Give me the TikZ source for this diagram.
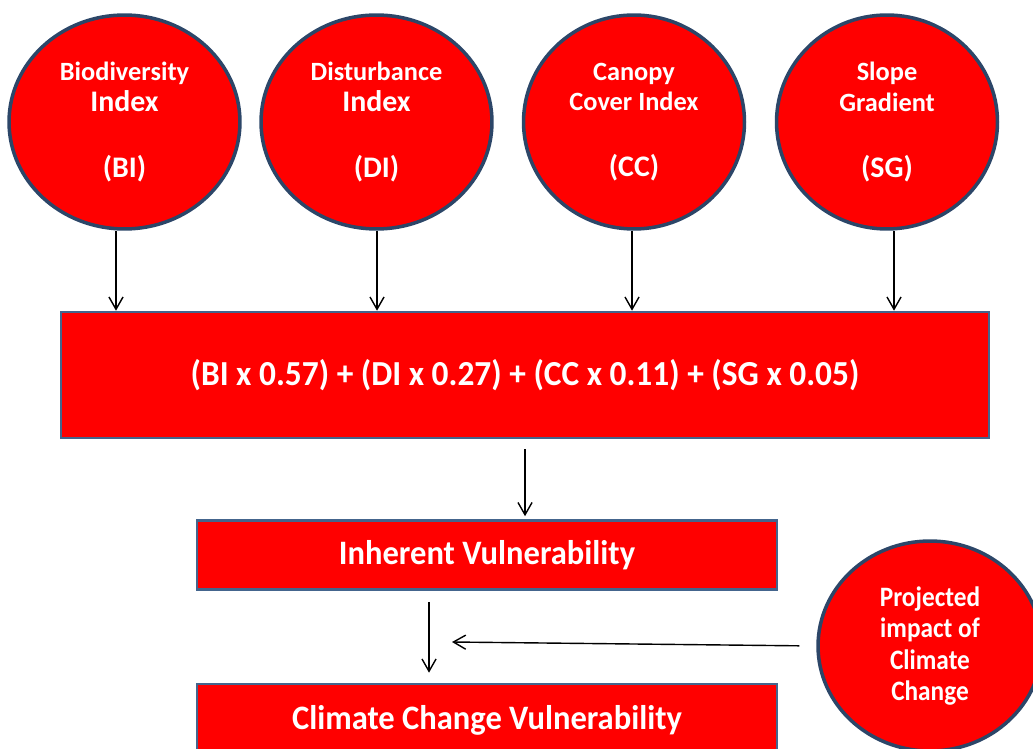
\documentclass[tikz,border=0pt]{standalone}
\usepackage{fontspec}
\setmainfont{Carlito}
\newfontfamily\narrowfont[FakeStretch=0.95]{Carlito}
\newfontfamily\tallfont[FakeStretch=0.9]{Carlito}
\usetikzlibrary{shapes.geometric,arrows.meta}
\begin{document}
\begin{tikzpicture}[x=0.02cm, y=-0.02cm,
  every node/.style={align=center, text=white, font=\bfseries},
  factor/.style={ellipse, draw=rim, line width=2pt, fill=red, inner sep=0pt,
    font=\bfseries\fontsize{15}{17.5}\selectfont},
  stage/.style={rectangle, draw=boxrim, line width=1.5pt, fill=red, inner sep=0pt},
  big/.style={font=\narrowfont\bfseries\fontsize{#1}{22}\selectfont},
  arr/.style={-{Straight Barb[length=7pt, width=8pt]}, line width=0.8pt, black}]
  % Index circles, formula and outcome boxes
  \definecolor{rim}{HTML}{2C4668}
  \definecolor{boxrim}{HTML}{44658D}
  \useasboundingbox (0,0) rectangle (1033,749);

  \node[factor, minimum width=4.62cm, minimum height=4.28cm] (bi) at (124.5,122)
    {Biodiversity\\{\fontsize{17}{17.5}\selectfont Index}\\[20pt]{\fontsize{17}{17}\selectfont(BI)}};
  \node[factor, minimum width=4.62cm, minimum height=4.28cm] (di) at (376.5,122)
    {Disturbance\\{\fontsize{17}{17.5}\selectfont Index}\\[20pt]{\fontsize{17}{17}\selectfont(DI)}};
  \node[factor, minimum width=4.42cm, minimum height=4.28cm] (cc) at (634,122)
    {Canopy\\Cover Index\\[20pt]{\fontsize{17}{17}\selectfont(CC)}};
  \node[factor, minimum width=4.42cm, minimum height=4.28cm] (sg) at (887,122)
    {Slope\\Gradient\\[20pt]{\fontsize{17}{17}\selectfont(SG)}};

  \node[stage, big=20, minimum width=18.56cm, minimum height=2.52cm] (formula) at (525,375)
    {(BI x 0.57) + (DI x 0.27) + (CC x 0.11) + (SG x 0.05)};
  \node[stage, big=19.5, minimum width=11.6cm, minimum height=1.38cm] (inh) at (487,555)
    {Inherent Vulnerability};
  \node[stage, big=19.5, minimum width=11.6cm, minimum height=1.44cm] (ccv) at (487,720)
    {Climate Change Vulnerability};

  \node[factor, minimum width=4.48cm, minimum height=4.2cm,
    font=\tallfont\bfseries\fontsize{16}{18}\selectfont] (proj) at (930,646)
    {Projected\\impact of\\Climate\\Change};
  \coordinate (tip) at (452,642);

  \foreach \n/\dx in {bi/-8.5, di/0.5, cc/-2, sg/7}
    \draw[arr] ([xshift=\dx*0.02cm]\n.south) -- ([xshift=\dx*0.02cm]\n.south |- formula.north);
  \draw[arr, shorten <=0.2cm, shorten >=0.06cm] (formula.south) -- (formula.south |- inh.north);
  \draw[arr, shorten <=0.22cm, shorten >=0.2cm] ([xshift=-1.16cm]inh.south) -- ([xshift=-1.16cm]ccv.north);
  \draw[arr, shorten <=0.34cm] (proj.west) -- (tip);
\end{tikzpicture}
\end{document}
